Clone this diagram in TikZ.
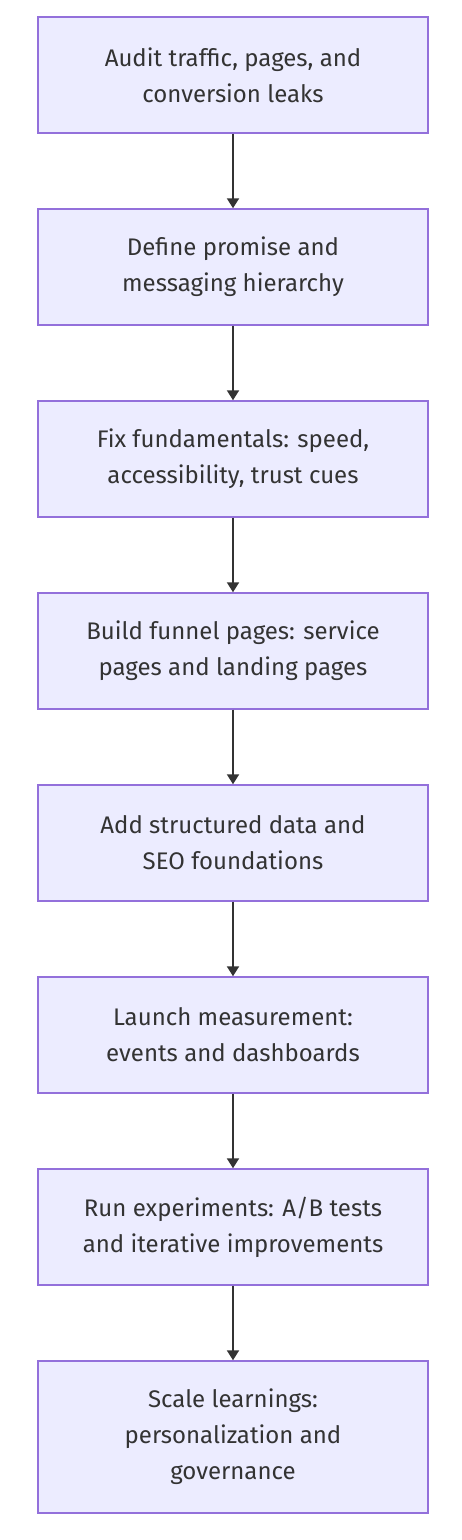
\documentclass[tikz,border=0pt]{standalone}
\usepackage{fontspec}
\setmainfont{Fira Sans}
\usetikzlibrary{arrows.meta}
\definecolor{boxfill}{HTML}{ECECFF}
\definecolor{boxline}{HTML}{9370DB}
\definecolor{ink}{HTML}{333333}
\begin{document}
\begin{tikzpicture}[x=0.75pt,y=-0.75pt,
  stepbox/.style={draw=boxline,fill=boxfill,line width=1.1pt,minimum width=292.5pt,
    align=center,text=ink,font=\fontsize{18}{27}\selectfont,inner sep=0pt},
  flow/.style={draw=ink,line width=1.5pt,-{Triangle[width=9pt,length=7.5pt]}}]
\useasboundingbox (0,0) rectangle (461,1540);
\node[stepbox,minimum height=87pt] (n1) at (233,75) {Audit traffic, pages, and\\conversion leaks};
\node[stepbox,minimum height=87pt] (n2) at (233,267) {Define promise and\\messaging hierarchy};
\node[stepbox,minimum height=87pt] (n3) at (233,459) {Fix fundamentals: speed,\\accessibility, trust cues};
\node[stepbox,minimum height=87pt] (n4) at (233,651) {Build funnel pages: service\\pages and landing pages};
\node[stepbox,minimum height=87pt] (n5) at (233,843) {Add structured data and\\SEO foundations};
\node[stepbox,minimum height=87pt] (n6) at (233,1035) {Launch measurement:\\events and dashboards};
\node[stepbox,minimum height=87pt] (n7) at (233,1227) {Run experiments: A/B tests\\and iterative improvements};
\node[stepbox,minimum height=114pt] (n8) at (233,1437) {Scale learnings:\\personalization and\\governance};
\foreach \a/\b in {n1/n2,n2/n3,n3/n4,n4/n5,n5/n6,n6/n7,n7/n8}
  \draw[flow] (\a.south) -- (\b.north);
\end{tikzpicture}
\end{document}
